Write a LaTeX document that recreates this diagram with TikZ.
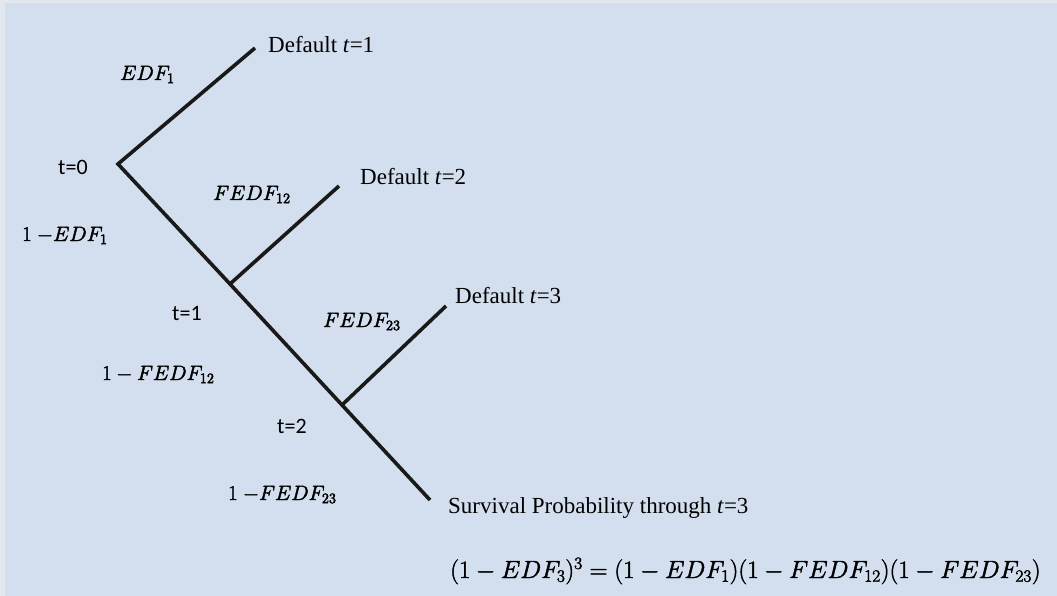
\documentclass[tikz,border=0pt]{standalone}
\usepackage{fontspec}
\setmainfont{Liberation Serif}
\newfontfamily\calibrifont{Carlito}
\definecolor{panelblue}{HTML}{D3DFEE}
\definecolor{edgegray}{HTML}{E3E8EE}
% slightly heavier strokes for the thin math glyphs
\newcommand\heavymath[1]{\special{pdf:literal direct 2 Tr 0.45 w}#1\special{pdf:literal direct 0 Tr}}
\begin{document}
\begin{tikzpicture}[x=1pt,y=-1pt,
  branch/.style={line width=3.6pt, black!90},
  outcome/.style={anchor=base west, inner sep=0pt, font=\fontsize{23}{26}\selectfont},
  prob/.style={anchor=base west, inner sep=0pt, font=\fontsize{21}{24}\selectfont},
  timept/.style={anchor=base west, inner sep=0pt, font=\calibrifont\fontsize{22}{25}\selectfont},
  formula/.style={anchor=base west, inner sep=0pt, font=\fontsize{23.5}{27}\selectfont}]
% page and panel
\fill[edgegray] (0,0) rectangle (1057,596);
\fill[panelblue] (5,3) rectangle (1057,596);
\useasboundingbox (0,0) rectangle (1057,596);

% tree points
\coordinate (root) at (118,164);
\coordinate (n1) at (230,284);
\coordinate (n2) at (342,405);
\coordinate (d1) at (255,48);
\coordinate (d2) at (339,186);
\coordinate (d3) at (446,306);
\coordinate (s3) at (430,500);

% branches
\draw[branch] (d1) -- (root) -- (n1) -- (n2) -- (s3);
\draw[branch] (n1) -- (d2);
\draw[branch] (n2) -- (d3);

% outcomes
\node[outcome] (o1) at (268,53) {Default \textit{t}=1};
\node[outcome] (o2) at (360,185) {Default \textit{t}=2};
\node[outcome] (o3) at (455,303) {Default \textit{t}=3};
\node[outcome] (o4) at (448,513) {Survival Probability through \textit{t}=3};
\node[formula] (eq) at (450,578) {\heavymath{$(1-EDF_3)^3=(1-EDF_1)(1-FEDF_{12})(1-FEDF_{23})$}};

% branch probabilities
\node[prob] (p1) at (120,80) {\heavymath{$EDF_1$}};
\node[prob] (q1) at (22,241) {\heavymath{$1\ {-}EDF_1$}};
\node[prob] (p2) at (213,200) {\heavymath{$FEDF_{12}$}};
\node[prob] (q2) at (102,380) {\heavymath{$1-FEDF_{12}$}};
\node[prob] (p3) at (323,327) {\heavymath{$FEDF_{23}$}};
\node[prob] (q3) at (228,500) {\heavymath{$1\ {-}FEDF_{23}$}};

% time points
\node[timept] (t0) at (58,175) {t=0};
\node[timept] (t1) at (172,320) {t=1};
\node[timept] (t2) at (277,433) {t=2};
\end{tikzpicture}
\end{document}
